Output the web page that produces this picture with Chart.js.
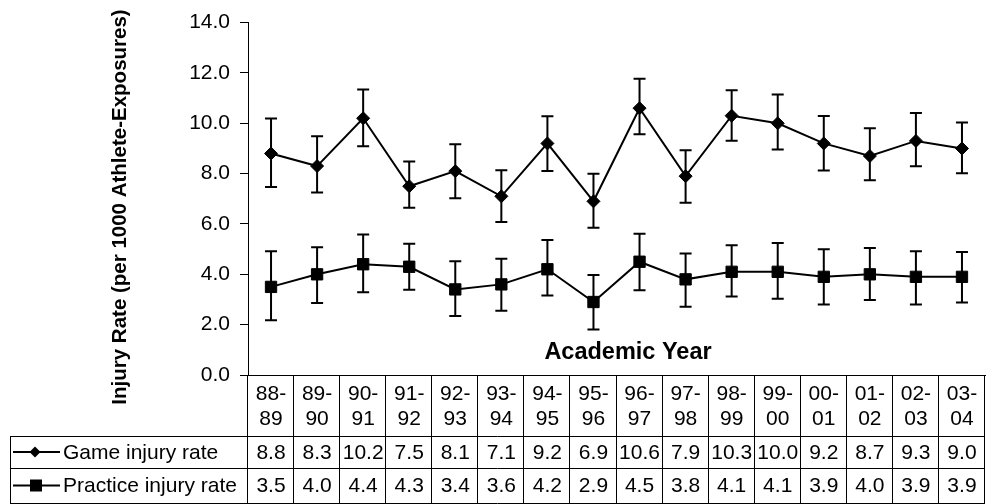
<!DOCTYPE html>
<html>
<head>
<meta charset="utf-8">
<script src="https://cdn.jsdelivr.net/npm/chart.js@4"></script>
<style>
  body { margin: 0; background: #fff; }
  #wrap { width: 994px; height: 504px; position: relative; }
</style>
</head>
<body>
<div id="wrap"><canvas id="myChart"></canvas></div>
<script>
// academic years (x categories)
const years = ['88-89','89-90','90-91','91-92','92-93','93-94','94-95','95-96',
               '96-97','97-98','98-99','99-00','00-01','01-02','02-03','03-04'];

// injury rates per 1000 athlete-exposures
const gameRate     = [8.8, 8.3, 10.2, 7.5, 8.1, 7.1, 9.2, 6.9, 10.6, 7.9, 10.3, 10.0, 9.2, 8.7, 9.3, 9.0];
const practiceRate = [3.5, 4.0, 4.4, 4.3, 3.4, 3.6, 4.2, 2.9, 4.5, 3.8, 4.1, 4.1, 3.9, 4.0, 3.9, 3.9];

// confidence interval ends
const gameLow      = [7.47, 7.25, 9.09, 6.64, 7.02, 6.08, 8.10, 5.85, 9.56, 6.84, 9.31, 8.96, 8.12, 7.74, 8.29, 8.02];
const gameHigh     = [10.19, 9.48, 11.34, 8.48, 9.17, 8.13, 10.28, 8.00, 11.77, 8.93, 11.31, 11.14, 10.29, 9.80, 10.41, 10.03];
const practiceLow  = [2.18, 2.86, 3.29, 3.39, 2.34, 2.55, 3.16, 1.81, 3.37, 2.71, 3.12, 3.03, 2.80, 2.98, 2.80, 2.88];
const practiceHigh = [4.92, 5.08, 5.58, 5.21, 4.52, 4.62, 5.36, 3.97, 5.61, 4.83, 5.15, 5.24, 5.00, 5.05, 4.92, 4.89];

const yTicks = [0, 2, 4, 6, 8, 10, 12, 14];

const FONT = '"Liberation Sans", Arial, sans-serif';

// error bars for both series
const errorBars = {
  id: 'errorBars',
  beforeDatasetsDraw(chart) {
    const ctx = chart.ctx;
    const y = chart.scales.y;
    const sets = [[gameLow, gameHigh], [practiceLow, practiceHigh]];
    ctx.save();
    ctx.strokeStyle = '#000';
    ctx.lineWidth = 2;
    sets.forEach((s, di) => {
      const meta = chart.getDatasetMeta(di);
      meta.data.forEach((pt, i) => {
        const x = pt.x;
        const y1 = y.getPixelForValue(s[0][i]);
        const y2 = y.getPixelForValue(s[1][i]);
        ctx.beginPath();
        ctx.moveTo(x, y1); ctx.lineTo(x, y2);
        ctx.moveTo(x - 6, y1); ctx.lineTo(x + 6, y1);
        ctx.moveTo(x - 6, y2); ctx.lineTo(x + 6, y2);
        ctx.stroke();
      });
    });
    ctx.restore();
  }
};

// y title, x title and the data table under the plot
const extras = {
  id: 'extras',
  afterDraw(chart) {
    const ctx = chart.ctx;
    const area = chart.chartArea;
    const colW = (area.right - area.left) / years.length;
    const top = area.bottom;
    const r1 = 436, r2 = 468, r3 = 503;
    ctx.save();

    // y axis title
    ctx.fillStyle = '#000';
    ctx.font = 'bold 20.5px ' + FONT;
    ctx.textAlign = 'center';
    ctx.textBaseline = 'middle';
    ctx.translate(120, 207);
    ctx.rotate(-Math.PI / 2);
    ctx.fillText('Injury Rate (per 1000 Athlete-Exposures)', 0, 0);
    ctx.setTransform(1, 0, 0, 1, 0, 0);

    // x title inside plot
    ctx.font = 'bold 23.5px ' + FONT;
    ctx.fillText('Academic Year', 628, 353);

    // grid of the table
    ctx.strokeStyle = '#000';
    ctx.lineWidth = 1;
    ctx.beginPath();
    for (let i = 0; i <= years.length; i++) {
      const x = Math.round(area.left + i * colW) - 0.5;
      ctx.moveTo(x, top); ctx.lineTo(x, r3);
    }
    [r1, r2, r3].forEach(yy => { ctx.moveTo(10, yy + 0.5); ctx.lineTo(area.right, yy + 0.5); });
    ctx.moveTo(10.5, r1); ctx.lineTo(10.5, r3);
    ctx.stroke();

    // table text
    ctx.font = '21px ' + FONT;
    years.forEach((yr, i) => {
      const cx = area.left + (i + 0.5) * colW;
      const parts = yr.split('-');
      ctx.fillText(parts[0] + '-', cx, 394);
      ctx.fillText(parts[1], cx, 419);
      ctx.fillText(gameRate[i].toFixed(1), cx, (r1 + r2) / 2 + 1);
      ctx.fillText(practiceRate[i].toFixed(1), cx, (r2 + r3) / 2 + 1);
    });

    // legend cells
    const g = (r1 + r2) / 2, p = (r2 + r3) / 2;
    ctx.lineWidth = 2;
    ctx.beginPath();
    ctx.moveTo(13, g); ctx.lineTo(60, g);
    ctx.moveTo(13, p); ctx.lineTo(60, p);
    ctx.stroke();
    ctx.beginPath();
    ctx.moveTo(35, g - 5.5); ctx.lineTo(40.5, g); ctx.lineTo(35, g + 5.5); ctx.lineTo(29.5, g);
    ctx.closePath(); ctx.fill();
    ctx.fillRect(30, p - 6, 12, 12);
    ctx.textAlign = 'left';
    ctx.fillText('Game injury rate', 63, g + 1);
    ctx.fillText('Practice injury rate', 63, p + 1);
    ctx.restore();
  }
};

new Chart(document.getElementById('myChart'), {
  type: 'line',
  data: {
    labels: years,
    datasets: [{
      label: 'Game injury rate',
      data: gameRate,
      borderColor: '#000',
      backgroundColor: '#000',
      borderWidth: 2,
      pointStyle: 'rectRot',
      pointRadius: 6.5,
      pointBorderWidth: 1,
      tension: 0
    }, {
      label: 'Practice injury rate',
      data: practiceRate,
      borderColor: '#000',
      backgroundColor: '#000',
      borderWidth: 2,
      pointStyle: 'rect',
      pointRadius: 8,
      pointBorderWidth: 1,
      tension: 0
    }]
  },
  options: {
    responsive: true,
    maintainAspectRatio: false,
    animation: false,
    layout: { padding: { top: 22, left: 0, right: 0, bottom: 0 } },
    plugins: { legend: { display: false }, tooltip: { enabled: false } },
    scales: {
      x: {
        offset: true,
        grid: { display: false },
        border: { display: true, color: '#000', width: 1 },
        ticks: { display: false },
        afterFit(s) { s.height = 129; }
      },
      y: {
        min: 0,
        max: 14,
        afterBuildTicks(s) { s.ticks = yTicks.map(v => ({ value: v })); },
        grid: { drawOnChartArea: false, drawTicks: true, tickLength: 8, color: '#000' },
        border: { display: true, color: '#000', width: 1 },
        ticks: {
          color: '#000',
          padding: 10,
          font: { size: 21, family: FONT },
          callback: v => v.toFixed(1)
        },
        afterFit(s) { s.width = 248; }
      }
    }
  },
  plugins: [errorBars, extras]
});
</script>
</body>
</html>
